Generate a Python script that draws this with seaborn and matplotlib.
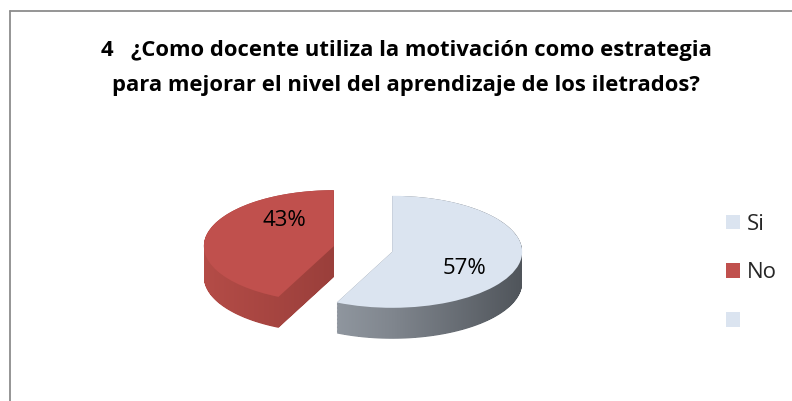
import numpy as np
import matplotlib
matplotlib.use('Agg')
import matplotlib.pyplot as plt
import seaborn as sns
from matplotlib.path import Path
from matplotlib.patches import PathPatch, Patch
from matplotlib.lines import Line2D
from matplotlib.colors import LinearSegmentedColormap

# ---------------- data ----------------
categories = ['Si', 'No', '']
values = [57, 43, 0]
title_lines = ['4   ¿Como docente utiliza la motivación como estrategia',
               'para mejorar el nivel del aprendizaje de los iletrados?']

# ---------------- style ----------------
top_colors = ['#dbe4f0', '#c0504d', '#dbe4f0']
side_grad = [['#a4acb5', '#80868e', '#50555b'],
             ['#b44c47', '#9a3f3b', '#7c2e2b']]

sns.set_theme(style='white')
plt.rcParams['font.family'] = ['Open Sans', 'DejaVu Sans']

W, H = 792, 401
fig = plt.figure(figsize=(W / 100, H / 100), dpi=100)
ax = fig.add_axes([0, 0, 1, 1])

RX, RY = 130, 56          # ellipse radii in px
K = RX / RY               # y-scale factor so that circles become ellipses
DEPTH = 31 * K            # extrusion depth (data units)
cx, cy = 363, (H - 249) * K
EXPL = 0.23 * RX

pie_vals = [v for v in values if v > 0]
n = len(pie_vals)
common = dict(radius=RX, startangle=90, counterclock=False,
              explode=[EXPL] * n, frame=True,
              wedgeprops=dict(linewidth=0))

# top faces (also gives the wedge geometry)
wedges, texts, autotexts = ax.pie(pie_vals, center=(cx, cy),
                                  colors=top_colors[:n], autopct='%1.0f%%',
                                  pctdistance=0.6,
                                  textprops=dict(fontsize=16, color='black'),
                                  **common)
for w in wedges:
    w.set_zorder(5)
for t in autotexts:
    t.set_zorder(6)


def wedge_xy(c, r, t1, t2, m=120):
    th = np.radians(np.linspace(t1, t2, m))
    xs = np.r_[c[0], c[0] + r * np.cos(th), c[0]]
    ys = np.r_[c[1], c[1] + r * np.sin(th), c[1]]
    return np.column_stack([xs, ys])


# extruded sides: union of stacked wedge outlines, filled with a gradient
for i, w in enumerate(wedges):
    polys = []
    for d in np.linspace(0, DEPTH, 40):
        c = (w.center[0], w.center[1] - d)
        polys.append(Path(wedge_xy(c, w.r, w.theta1, w.theta2), closed=True))
    comp = Path.make_compound_path(*polys)
    clip = PathPatch(comp, transform=ax.transData, facecolor='none',
                     edgecolor='none')
    ax.add_patch(clip)
    cmap = LinearSegmentedColormap.from_list('g%d' % i, side_grad[i])
    x0, x1 = w.center[0] - w.r, w.center[0] + w.r
    y0, y1 = w.center[1] - w.r - DEPTH, w.center[1] + w.r
    grad = np.linspace(0, 1, 256)[None, :]
    im = ax.imshow(grad, extent=(x0, x1, y0, y1), aspect='auto', cmap=cmap,
                   zorder=2, interpolation='bilinear')
    im.set_clip_path(clip)

# label positions (relative to each wedge centre, in radius units)
label_off = [(0.56, -0.29), (-0.38, 0.45)]
for w, t, (ox, oy) in zip(wedges, autotexts, label_off):
    t.set_position((w.center[0] + ox * w.r, w.center[1] + oy * w.r))
    t.set_ha('center')
    t.set_va('center')

ax.set_aspect('auto')
ax.set_xlim(0, W)
ax.set_ylim(0, H * K)
ax.axis('off')

# title
for j, line in enumerate(title_lines):
    fig.text(406 / W, 1 - [56, 91][j] / H, line, ha='center', va='baseline',
             fontsize=15.8, fontweight='bold', color='black')

# legend
handles = [Patch(facecolor=top_colors[i], edgecolor='none')
           for i in range(len(categories))]
fig.legend(handles, categories, loc='center left',
           bbox_to_anchor=(726 / W, 1 - 273 / H), frameon=False,
           fontsize=16, handlelength=0.65, handleheight=0.65,
           handletextpad=0.3, labelspacing=1.25, borderpad=0,
           borderaxespad=0)

# chart border (left and top edges)
fig.add_artist(Line2D([9.5 / W, 9.5 / W], [0, 1 - 11 / H],
                      color='#8c8c8c', lw=1.3, transform=fig.transFigure))
fig.add_artist(Line2D([9.5 / W, 1], [1 - 11 / H, 1 - 11 / H],
                      color='#8c8c8c', lw=1.3, transform=fig.transFigure))

fig.savefig('out.png', dpi=100)
